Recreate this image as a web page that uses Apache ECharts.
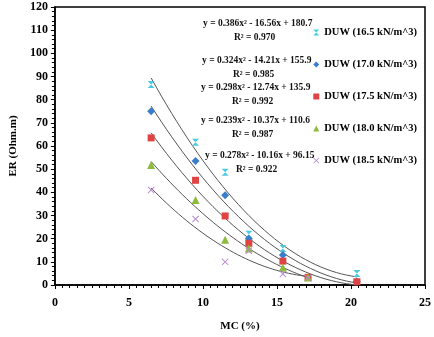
<!DOCTYPE html>
<html>
<head>
<meta charset="utf-8">
<script src="https://cdn.jsdelivr.net/npm/echarts@6/dist/echarts.min.js"></script>
<style>
  html, body { margin: 0; padding: 0; background: #fff; }
  #chart { width: 434px; height: 337px; }
</style>
</head>
<body>
<div id="chart"></div>
<script>
var serif = '"Liberation Serif", "DejaVu Serif", serif';

// moisture content (x) and measured ER for each dry unit weight
var names = ['DUW (16.5 kN/m^3)', 'DUW (17.0 kN/m^3)', 'DUW (17.5 kN/m^3)', 'DUW (18.0 kN/m^3)', 'DUW (18.5 kN/m^3)'];
var duw165 = [[6.5, 86.5], [9.5, 61.6], [11.5, 48.7], [13.1, 21.9], [15.4, 15.8], [20.4, 5.0]];
var duw170 = [[6.5, 75.0], [9.5, 53.5], [11.5, 38.7], [13.1, 20.0], [15.4, 12.9], [20.4, 1.5]];
var duw175 = [[6.5, 63.5], [9.5, 45.2], [11.5, 29.8], [13.1, 18.0], [15.4, 10.3], [17.1, 3.3], [20.4, 1.4]];
var duw180 = [[6.5, 51.8], [9.5, 36.7], [11.5, 19.5], [13.1, 15.8], [15.4, 7.6], [17.1, 3.2]];
var duw185 = [[6.5, 41.0], [9.5, 28.5], [11.5, 10.0], [13.1, 14.8], [15.4, 4.7], [17.1, 3.0]];

// printed polynomial trendlines: a x^2 + b x + c, over the data range
var fitA = [0.386, 0.324, 0.298, 0.239, 0.278];
var fitB = [-16.56, -14.21, -12.74, -10.37, -10.16];
var fitC = [180.7, 155.9, 135.9, 110.6, 96.15];
var fitEnd = [20.4, 20.4, 20.4, 17.1, 17.1];
var eqText = [
  'y = 0.386x\u00b2 - 16.56x + 180.7', 'y = 0.324x\u00b2 - 14.21x + 155.9',
  'y = 0.298x\u00b2 - 12.74x + 135.9', 'y = 0.239x\u00b2 - 10.37x + 110.6',
  'y = 0.278x\u00b2 - 10.16x + 96.15'
];
var r2Text = ['R\u00b2 = 0.970', 'R\u00b2 = 0.985', 'R\u00b2 = 0.992', 'R\u00b2 = 0.987', 'R\u00b2 = 0.922'];

var colors = ['#4cc9e3', '#3a7dc9', '#e04343', '#8dbb3c', '#b98ad0'];
var symbols = [
  'path://M0,0 L10,0 L0,10 L10,10 Z',
  'diamond',
  'rect',
  'triangle',
  'path://M0,1 L1,0 L5,4 L9,0 L10,1 L6,5 L10,9 L9,10 L5,6 L1,10 L0,9 L4,5 Z'
];
var sizes = [7, 8, 7, 8, 7];
var allData = [duw165, duw170, duw175, duw180, duw185];

function trend(i) {
  var pts = [];
  var x0 = allData[i][0][0];
  var steps = 40;
  for (var k = 0; k <= steps; k++) {
    var x = x0 + (fitEnd[i] - x0) * k / steps;
    pts.push([x, fitA[i] * x * x + fitB[i] * x + fitC[i]]);
  }
  return pts;
}

var series = [];
for (var i = 0; i < 5; i++) {
  series.push({
    name: 'fit' + i,
    type: 'line',
    data: trend(i),
    showSymbol: false,
    silent: true,
    lineStyle: { color: '#555', width: 1 },
    z: 1
  });
}
for (var i = 0; i < 5; i++) {
  series.push({
    name: names[i],
    type: 'scatter',
    data: allData[i],
    symbol: symbols[i],
    symbolSize: sizes[i],
    itemStyle: { color: colors[i], opacity: 1 },
    z: 3
  });
}

var graphics = [];
var eqY = [25, 62, 89, 122, 157];
var eqX = [259, 258, 257, 257, 261];
for (var i = 0; i < 5; i++) {
  graphics.push({
    type: 'text', left: eqX[i] - 56, top: eqY[i] - 6,
    style: { text: eqText[i], font: 'bold 9.5px ' + serif, fill: '#111', width: 112, align: 'center' }
  });
  graphics.push({
    type: 'text', left: eqX[i] - 25, top: eqY[i] + 8,
    style: { text: r2Text[i], font: 'bold 9.5px ' + serif, fill: '#111', width: 50, align: 'center' }
  });
}

var chart = echarts.init(document.getElementById('chart'));
chart.setOption({
  animation: false,
  grid: {
    left: 43, right: 7, top: 7, bottom: 51,
    show: true, borderColor: '#000', borderWidth: 1.5
  },
  legend: {
    data: names,
    orient: 'vertical',
    right: 12,
    top: 22,
    itemGap: 21,
    itemWidth: 6,
    itemHeight: 6,
    textStyle: { fontFamily: serif, fontWeight: 'bold', fontSize: 10.5, color: '#000' }
  },
  xAxis: {
    type: 'value', min: 0, max: 25, interval: 5,
    name: 'MC (%)', nameLocation: 'middle', nameGap: 36,
    nameTextStyle: { fontFamily: serif, fontWeight: 'bold', fontSize: 11, color: '#000' },
    axisLine: { lineStyle: { color: '#000', width: 1.5 } },
    axisTick: { lineStyle: { color: '#000' }, length: 4 },
    minorTick: { show: true, splitNumber: 10, length: 3, lineStyle: { color: '#000' } },
    splitLine: { show: false },
    axisLabel: { fontFamily: serif, fontWeight: 'bold', fontSize: 12, color: '#000', margin: 12 }
  },
  yAxis: {
    type: 'value', min: 0, max: 120, interval: 10,
    name: 'ER (Ohm.m)', nameLocation: 'middle', nameGap: 30,
    nameTextStyle: { fontFamily: serif, fontWeight: 'bold', fontSize: 11, color: '#000' },
    axisLine: { show: true, lineStyle: { color: '#000', width: 1.5 } },
    axisTick: { show: true, lineStyle: { color: '#000' }, length: 4 },
    minorTick: { show: true, splitNumber: 5, length: 3, lineStyle: { color: '#000' } },
    splitLine: { show: false },
    axisLabel: { fontFamily: serif, fontWeight: 'bold', fontSize: 12, color: '#000', margin: 7 }
  },
  graphic: graphics,
  series: series
});
</script>
</body>
</html>
